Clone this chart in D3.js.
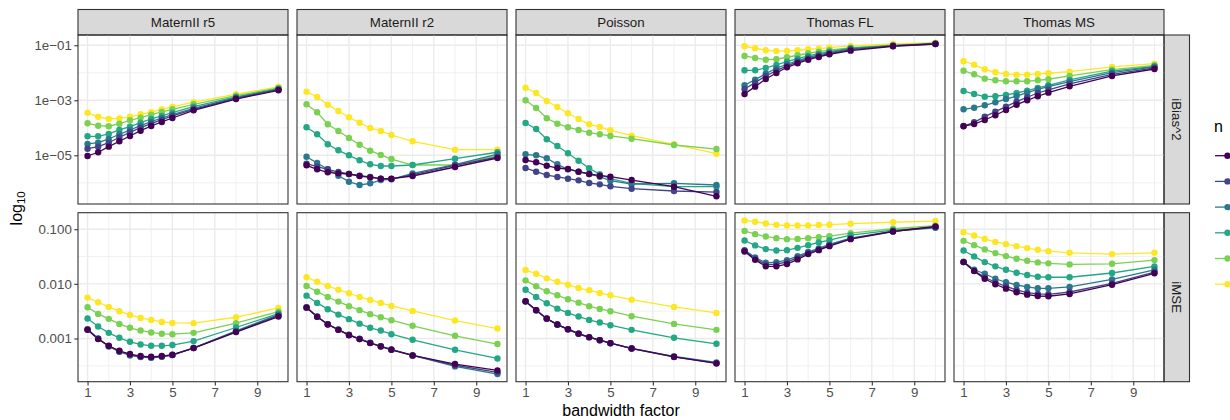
<!DOCTYPE html>
<html><head><meta charset="utf-8">
<script src="https://cdn.jsdelivr.net/npm/d3@7"></script>
<style>
body{margin:0;background:#fff}
svg text{font-family:"Liberation Sans",Arial,Helvetica,sans-serif}
</style>
</head><body>
<svg id="chart" width="1230" height="420"></svg>
<script>
// ---------------- data ----------------
const bandwidth = [1, 1.5, 2, 2.5, 3, 3.5, 4, 4.5, 5, 6, 8, 10];
const models = ["MaternII r5", "MaternII r2", "Poisson", "Thomas FL", "Thomas MS"];
const measures = ["iBias^2", "iMSE"];
const seriesColors = ["#440154", "#414487", "#2A788E", "#22A884", "#7AD151", "#FDE725"];
const xTicks = [1, 3, 5, 7, 9];
const yTicksBias = [1e-1, 1e-3, 1e-5];
const yTickLabelsBias = ["1e\u221201", "1e\u221203", "1e\u221205"];
const yTicksMSE = [0.1, 0.01, 0.001];
const yTickLabelsMSE = ["0.100", "0.010", "0.001"];

// each array: six series (n level 1 .. 6), values at the 12 bandwidth factors
const biasMaternR5 = [
  [9.44e-6, 1.29e-5, 2.06e-5, 3.23e-5, 5.04e-5, 7.85e-5, 1.16e-4, 1.63e-4, 2.27e-4, 4.33e-4, 1.11e-3, 2.31e-3],
  [1.74e-5, 2.06e-5, 2.87e-5, 4.52e-5, 6.85e-5, 1.01e-4, 1.41e-4, 1.97e-4, 2.69e-4, 4.71e-4, 1.18e-3, 2.43e-3],
  [2.58e-5, 2.87e-5, 3.92e-5, 5.81e-5, 8.32e-5, 1.19e-4, 1.67e-4, 2.27e-4, 2.99e-4, 5.12e-4, 1.24e-3, 2.51e-3],
  [4.91e-5, 4.91e-5, 5.96e-5, 8.32e-5, 1.10e-4, 1.53e-4, 2.09e-4, 2.69e-4, 3.54e-4, 5.85e-4, 1.32e-3, 2.64e-3],
  [1.46e-4, 1.19e-4, 1.14e-4, 1.41e-4, 1.87e-4, 2.33e-4, 2.99e-4, 3.76e-4, 4.71e-4, 7.16e-4, 1.47e-3, 2.80e-3],
  [3.55e-4, 2.51e-4, 2.09e-4, 2.19e-4, 2.51e-4, 3.09e-4, 3.72e-4, 4.68e-4, 5.75e-4, 8.51e-4, 1.66e-3, 3.09e-3]
];
const biasMaternR2 = [
  [4.33e-6, 3.10e-6, 2.41e-6, 2.21e-6, 2.09e-6, 1.77e-6, 1.58e-6, 1.41e-6, 1.41e-6, 1.77e-6, 3.76e-6, 7.98e-6],
  [4.95e-6, 3.85e-6, 3.10e-6, 2.47e-6, 2.09e-6, 1.81e-6, 1.63e-6, 1.41e-6, 1.37e-6, 1.97e-6, 4.33e-6, 8.67e-6],
  [8.89e-6, 5.25e-6, 3.10e-6, 1.81e-6, 1.10e-6, 8.32e-7, 9.59e-7, 1.26e-6, 1.34e-6, 2.21e-6, 4.55e-6, 1.11e-5],
  [1.04e-4, 5.81e-5, 2.51e-5, 1.52e-5, 1.00e-5, 6.58e-6, 4.71e-6, 4.08e-6, 4.08e-6, 4.44e-6, 7.52e-6, 1.29e-5],
  [7.16e-4, 3.66e-4, 1.34e-4, 7.66e-5, 4.26e-5, 2.43e-5, 1.47e-5, 1.03e-5, 7.33e-6, 4.44e-6, 4.44e-6, 9.66e-6],
  [2.06e-3, 1.32e-3, 6.92e-4, 4.08e-4, 2.41e-4, 1.53e-4, 9.84e-5, 7.66e-5, 5.47e-5, 3.23e-5, 1.60e-5, 1.60e-5]
];
const biasPoisson = [
  [6.75e-6, 5.56e-6, 4.19e-6, 3.45e-6, 3.18e-6, 2.54e-6, 2.09e-6, 1.81e-6, 1.67e-6, 1.26e-6, 7.21e-7, 3.23e-7],
  [3.45e-6, 2.54e-6, 1.92e-6, 1.63e-6, 1.41e-6, 1.23e-6, 9.84e-7, 8.81e-7, 7.46e-7, 6.10e-7, 5.04e-7, 4.62e-7],
  [1.09e-5, 1.00e-5, 7.78e-6, 4.71e-6, 3.10e-6, 2.54e-6, 2.09e-6, 1.67e-6, 1.19e-6, 9.04e-7, 9.59e-7, 8.32e-7],
  [1.50e-4, 9.04e-5, 3.82e-5, 2.18e-5, 1.18e-5, 6.37e-6, 3.37e-6, 2.04e-6, 1.41e-6, 9.59e-7, 7.21e-7, 7.21e-7],
  [1.00e-3, 5.25e-4, 2.21e-4, 1.41e-4, 1.04e-4, 8.32e-5, 6.64e-5, 5.81e-5, 5.04e-5, 4.02e-5, 2.37e-5, 1.69e-5],
  [2.87e-3, 1.84e-3, 9.44e-4, 5.70e-4, 3.37e-4, 2.09e-4, 1.34e-4, 1.07e-4, 8.11e-5, 5.16e-5, 2.51e-5, 1.14e-5]
];
const biasThomasFL = [
  [1.69e-3, 3.13e-3, 5.96e-3, 9.84e-3, 1.58e-2, 2.21e-2, 2.99e-2, 3.76e-2, 4.71e-2, 6.37e-2, 9.20e-2, 0.111],
  [2.58e-3, 4.37e-3, 7.66e-3, 1.19e-2, 1.77e-2, 2.47e-2, 3.26e-2, 4.08e-2, 4.95e-2, 6.92e-2, 9.44e-2, 0.111],
  [3.51e-3, 5.61e-3, 9.27e-3, 1.46e-2, 2.04e-2, 2.75e-2, 3.66e-2, 4.44e-2, 5.38e-2, 7.33e-2, 9.66e-2, 0.114],
  [1.23e-2, 1.23e-2, 1.50e-2, 1.92e-2, 2.54e-2, 3.26e-2, 4.08e-2, 4.95e-2, 5.85e-2, 7.78e-2, 9.66e-2, 0.114],
  [4.08e-2, 3.45e-2, 2.99e-2, 3.10e-2, 3.66e-2, 4.33e-2, 5.12e-2, 5.85e-2, 6.58e-2, 8.18e-2, 0.100, 0.118],
  [9.20e-2, 7.78e-2, 6.58e-2, 6.21e-2, 6.21e-2, 6.58e-2, 7.16e-2, 7.52e-2, 8.18e-2, 9.44e-2, 0.111, 0.124]
];
const biasThomasMS = [
  [1.14e-4, 1.37e-4, 1.92e-4, 2.85e-4, 4.44e-4, 6.92e-4, 1.00e-3, 1.40e-3, 1.89e-3, 3.23e-3, 7.66e-3, 1.37e-2],
  [1.16e-4, 1.58e-4, 2.54e-4, 3.85e-4, 5.85e-4, 8.89e-4, 1.29e-3, 1.84e-3, 2.37e-3, 3.92e-3, 8.81e-3, 1.50e-2],
  [4.71e-4, 5.38e-4, 6.58e-4, 8.45e-4, 1.11e-3, 1.43e-3, 1.89e-3, 2.51e-3, 3.13e-3, 4.74e-3, 1.01e-2, 1.63e-2],
  [2.18e-3, 1.69e-3, 1.35e-3, 1.40e-3, 1.56e-3, 1.84e-3, 2.23e-3, 2.80e-3, 3.51e-3, 5.47e-3, 1.14e-2, 1.72e-2],
  [1.19e-2, 8.81e-3, 6.10e-3, 5.33e-3, 4.91e-3, 4.91e-3, 4.91e-3, 5.33e-3, 5.81e-3, 7.66e-3, 1.30e-2, 1.87e-2],
  [2.62e-2, 1.97e-2, 1.34e-2, 1.04e-2, 9.04e-3, 8.53e-3, 8.53e-3, 9.04e-3, 9.59e-3, 1.10e-2, 1.63e-2, 2.14e-2]
];
const mseMaternR5 = [
  [1.44e-3, 9.75e-4, 7.36e-4, 5.97e-4, 5.19e-4, 4.78e-4, 4.63e-4, 4.78e-4, 5.05e-4, 6.68e-4, 1.31e-3, 2.52e-3],
  [1.46e-3, 9.89e-4, 7.26e-4, 5.79e-4, 5.05e-4, 4.63e-4, 4.51e-4, 4.70e-4, 4.98e-4, 6.68e-4, 1.34e-3, 2.62e-3],
  [1.48e-3, 1.00e-3, 7.14e-4, 5.73e-4, 4.90e-4, 4.58e-4, 4.45e-4, 4.63e-4, 4.98e-4, 6.76e-4, 1.38e-3, 2.74e-3],
  [2.32e-3, 1.66e-3, 1.27e-3, 1.03e-3, 8.71e-4, 7.78e-4, 7.36e-4, 7.36e-4, 7.59e-4, 8.97e-4, 1.59e-3, 2.86e-3],
  [3.73e-3, 2.82e-3, 2.29e-3, 1.85e-3, 1.57e-3, 1.40e-3, 1.29e-3, 1.22e-3, 1.20e-3, 1.27e-3, 1.91e-3, 3.11e-3],
  [5.60e-3, 4.61e-3, 3.78e-3, 3.16e-3, 2.70e-3, 2.38e-3, 2.19e-3, 2.01e-3, 1.93e-3, 1.91e-3, 2.45e-3, 3.63e-3]
];
const mseMaternR2 = [
  [3.67e-3, 2.49e-3, 1.80e-3, 1.44e-3, 1.15e-3, 9.75e-4, 8.24e-4, 7.14e-4, 6.22e-4, 4.90e-4, 3.41e-4, 2.61e-4],
  [3.72e-3, 2.51e-3, 1.82e-3, 1.45e-3, 1.16e-3, 9.82e-4, 8.32e-4, 7.21e-4, 6.27e-4, 4.90e-4, 3.24e-4, 2.40e-4],
  [3.73e-3, 2.52e-3, 1.83e-3, 1.46e-3, 1.17e-3, 9.89e-4, 8.36e-4, 7.26e-4, 6.31e-4, 4.90e-4, 3.09e-4, 2.24e-4],
  [6.08e-3, 4.48e-3, 3.44e-3, 2.74e-3, 2.26e-3, 1.87e-3, 1.57e-3, 1.40e-3, 1.20e-3, 9.46e-4, 6.22e-4, 4.32e-4],
  [9.14e-3, 7.19e-3, 5.75e-3, 4.73e-3, 3.90e-3, 3.30e-3, 2.79e-3, 2.45e-3, 2.16e-3, 1.71e-3, 1.12e-3, 7.91e-4],
  [1.32e-2, 1.09e-2, 9.14e-3, 7.82e-3, 6.73e-3, 5.75e-3, 5.08e-3, 4.48e-3, 3.94e-3, 3.20e-3, 2.13e-3, 1.52e-3]
];
const msePoisson = [
  [4.81e-3, 3.30e-3, 2.32e-3, 1.80e-3, 1.48e-3, 1.23e-3, 1.06e-3, 9.35e-4, 8.24e-4, 6.58e-4, 4.63e-4, 3.50e-4],
  [4.78e-3, 3.29e-3, 2.31e-3, 1.80e-3, 1.47e-3, 1.22e-3, 1.05e-3, 9.30e-4, 8.20e-4, 6.55e-4, 4.60e-4, 3.55e-4],
  [4.75e-3, 3.28e-3, 2.30e-3, 1.79e-3, 1.47e-3, 1.22e-3, 1.05e-3, 9.30e-4, 8.20e-4, 6.60e-4, 4.70e-4, 3.65e-4],
  [7.82e-3, 5.75e-3, 4.42e-3, 3.52e-3, 2.94e-3, 2.52e-3, 2.19e-3, 1.96e-3, 1.75e-3, 1.44e-3, 1.03e-3, 8.00e-4],
  [1.16e-2, 9.02e-3, 7.31e-3, 6.18e-3, 5.22e-3, 4.53e-3, 3.90e-3, 3.48e-3, 3.16e-3, 2.56e-3, 1.85e-3, 1.44e-3],
  [1.79e-2, 1.53e-2, 1.26e-2, 1.09e-2, 9.66e-3, 8.39e-3, 7.62e-3, 6.81e-3, 6.18e-3, 5.14e-3, 3.78e-3, 2.94e-3]
];
const mseThomasFL = [
  [3.92e-2, 2.75e-2, 2.09e-2, 2.09e-2, 2.30e-2, 2.80e-2, 3.50e-2, 4.14e-2, 4.90e-2, 6.58e-2, 9.08e-2, 0.112],
  [4.03e-2, 2.90e-2, 2.25e-2, 2.29e-2, 2.51e-2, 3.02e-2, 3.67e-2, 4.29e-2, 5.07e-2, 6.71e-2, 9.12e-2, 0.110],
  [4.14e-2, 3.05e-2, 2.43e-2, 2.50e-2, 2.72e-2, 3.22e-2, 3.85e-2, 4.45e-2, 5.26e-2, 6.85e-2, 9.20e-2, 0.106],
  [6.22e-2, 5.05e-2, 4.32e-2, 4.08e-2, 4.14e-2, 4.56e-2, 5.11e-2, 5.71e-2, 6.31e-2, 7.78e-2, 9.59e-2, 0.109],
  [9.31e-2, 8.11e-2, 7.36e-2, 6.85e-2, 6.58e-2, 6.65e-2, 6.85e-2, 7.14e-2, 7.45e-2, 8.45e-2, 0.102, 0.116],
  [0.145, 0.137, 0.127, 0.120, 0.117, 0.117, 0.117, 0.119, 0.121, 0.126, 0.134, 0.141]
];
const mseThomasMS = [
  [2.50e-2, 1.71e-2, 1.24e-2, 9.82e-3, 8.17e-3, 7.01e-3, 6.34e-3, 6.00e-3, 5.93e-3, 6.53e-3, 9.66e-3, 1.56e-2],
  [2.50e-2, 1.74e-2, 1.32e-2, 1.07e-2, 9.02e-3, 7.73e-3, 6.90e-3, 6.53e-3, 6.44e-3, 7.10e-3, 1.02e-2, 1.64e-2],
  [2.54e-2, 1.81e-2, 1.53e-2, 1.24e-2, 1.07e-2, 9.53e-3, 8.77e-3, 8.30e-3, 8.30e-3, 8.77e-3, 1.21e-2, 1.81e-2],
  [4.08e-2, 3.18e-2, 2.50e-2, 2.09e-2, 1.81e-2, 1.60e-2, 1.45e-2, 1.35e-2, 1.32e-2, 1.32e-2, 1.58e-2, 2.09e-2],
  [6.12e-2, 5.11e-2, 4.27e-2, 3.65e-2, 3.22e-2, 2.88e-2, 2.64e-2, 2.47e-2, 2.37e-2, 2.27e-2, 2.33e-2, 2.72e-2],
  [8.81e-2, 7.67e-2, 6.65e-2, 5.86e-2, 5.33e-2, 4.90e-2, 4.51e-2, 4.20e-2, 3.97e-2, 3.70e-2, 3.50e-2, 3.70e-2]
];

const biasSets = [biasMaternR5, biasMaternR2, biasPoisson, biasThomasFL, biasThomasMS];
const mseSets = [mseMaternR5, mseMaternR2, msePoisson, mseThomasFL, mseThomasMS];

(function () {
// ---------------- layout ----------------
const svg = d3.select("#chart");
const panelW = 210, panelH = 169, gapX = 9, gapY = 8.7;
const leftX = 78, topY = 35, stripH = 25.5, stripW = 25.5;
const tickLen = 3.7;
const gridCol = "#EBEBEB", borderCol = "#333333";
const fontTick = "13.3px", fontTitle = "16px";

const xs = d3.extent(bandwidth);
const xPad = (xs[1] - xs[0]) * 0.05;
const x = d3.scaleLinear().domain([xs[0] - xPad, xs[1] + xPad]).range([0, panelW]);
const xStep = xTicks[1] - xTicks[0];
const xMinor = [xTicks[0] - xStep, ...xTicks].map(v => v + xStep / 2)
  .filter(v => v >= x.domain()[0] && v <= x.domain()[1]);

function logDomain(sets) {
  const all = sets.flat(2);
  const lo = Math.log10(d3.min(all)), hi = Math.log10(d3.max(all));
  const p = (hi - lo) * 0.05;
  return [Math.pow(10, lo - p), Math.pow(10, hi + p)];
}
function minorLog(ticks, dom) {
  const l = ticks.map(Math.log10).sort((a, b) => a - b);
  const step = l[1] - l[0];
  const ext = [l[0] - step, ...l, l[l.length - 1] + step];
  const out = [];
  for (let i = 0; i < ext.length - 1; i++) {
    const m = (ext[i] + ext[i + 1]) / 2;
    if (m >= Math.log10(dom[0]) && m <= Math.log10(dom[1])) out.push(Math.pow(10, m));
  }
  return out;
}

const rows = [
  { label: measures[0], sets: biasSets, ticks: yTicksBias, labels: yTickLabelsBias },
  { label: measures[1], sets: mseSets, ticks: yTicksMSE, labels: yTickLabelsMSE }
];

// top strips
models.forEach((m, c) => {
  const gx = leftX + c * (panelW + gapX);
  const g = svg.append("g").attr("transform", `translate(${gx},${topY - stripH})`);
  g.append("rect").attr("width", panelW).attr("height", stripH)
    .attr("fill", "#D9D9D9").attr("stroke", borderCol).attr("stroke-width", 1.1);
  g.append("text").attr("x", panelW / 2).attr("y", stripH / 2).attr("dy", "0.36em")
    .attr("text-anchor", "middle").attr("fill", "#1A1A1A").style("font-size", fontTick).text(m);
});

rows.forEach((row, r) => {
  const gy = topY + r * (panelH + gapY);
  const dom = logDomain(row.sets);
  const y = d3.scaleLog().domain(dom).range([panelH, 0]);
  const yMinor = minorLog(row.ticks, dom);
  const lineGen = d3.line().x((d, i) => x(bandwidth[i])).y(d => y(d));

  // right strip
  const sg = svg.append("g").attr("transform", `translate(${leftX + 5 * panelW + 4 * gapX},${gy})`);
  sg.append("rect").attr("width", stripW).attr("height", panelH)
    .attr("fill", "#D9D9D9").attr("stroke", borderCol).attr("stroke-width", 1.1);
  sg.append("text").attr("transform", `translate(${stripW / 2},${panelH / 2}) rotate(90)`)
    .attr("dy", "0.36em").attr("text-anchor", "middle").attr("fill", "#1A1A1A")
    .style("font-size", fontTick).text(row.label);

  row.sets.forEach((series, c) => {
    const gx = leftX + c * (panelW + gapX);
    const g = svg.append("g").attr("transform", `translate(${gx},${gy})`);
    // grid
    g.append("g").selectAll("line").data(xMinor).join("line").attr("x1", d => x(d)).attr("x2", d => x(d))
      .attr("y1", 0).attr("y2", panelH).attr("stroke", gridCol).attr("stroke-width", 0.7);
    g.append("g").selectAll("line").data(yMinor).join("line").attr("y1", d => y(d)).attr("y2", d => y(d))
      .attr("x1", 0).attr("x2", panelW).attr("stroke", gridCol).attr("stroke-width", 0.7);
    g.append("g").selectAll("line").data(xTicks).join("line").attr("x1", d => x(d)).attr("x2", d => x(d))
      .attr("y1", 0).attr("y2", panelH).attr("stroke", gridCol).attr("stroke-width", 1.4);
    g.append("g").selectAll("line").data(row.ticks).join("line").attr("y1", d => y(d)).attr("y2", d => y(d))
      .attr("x1", 0).attr("x2", panelW).attr("stroke", gridCol).attr("stroke-width", 1.4);

    // lines then points, last n level drawn first
    const order = d3.range(series.length).reverse();
    order.forEach(k => {
      g.append("path").attr("d", lineGen(series[k])).attr("fill", "none")
        .attr("stroke", seriesColors[k]).attr("stroke-width", 1.3);
    });
    order.forEach(k => {
      g.append("g").selectAll("circle").data(series[k]).join("circle")
        .attr("cx", (d, i) => x(bandwidth[i])).attr("cy", d => y(d)).attr("r", 3.2)
        .attr("fill", seriesColors[k]);
    });

    g.append("rect").attr("width", panelW).attr("height", panelH)
      .attr("fill", "none").attr("stroke", borderCol).attr("stroke-width", 1.1);

    if (c === 0) {
      const ya = d3.axisLeft(y).tickValues(row.ticks).tickFormat((d, i) => row.labels[i])
        .tickSize(tickLen).tickPadding(2.5);
      const ag = g.append("g").call(ya);
      ag.select(".domain").remove();
      ag.selectAll("line").attr("stroke", borderCol).attr("stroke-width", 1.1);
      ag.selectAll("text").attr("fill", "#4D4D4D").style("font-size", fontTick)
        .style("font-family", '"Liberation Sans",Arial,sans-serif');
    }
    if (r === rows.length - 1) {
      const xa = d3.axisBottom(x).tickValues(xTicks).tickFormat(d3.format("d"))
        .tickSize(tickLen).tickPadding(2.5);
      const ag = g.append("g").attr("transform", `translate(0,${panelH})`).call(xa);
      ag.select(".domain").remove();
      ag.selectAll("line").attr("stroke", borderCol).attr("stroke-width", 1.1);
      ag.selectAll("text").attr("fill", "#4D4D4D").style("font-size", fontTick)
        .style("font-family", '"Liberation Sans",Arial,sans-serif');
    }
  });
});

// axis titles
const totalW = 5 * panelW + 4 * gapX;
svg.append("text").attr("x", leftX + totalW / 2).attr("y", 416).attr("text-anchor", "middle")
  .attr("fill", "#000").style("font-size", fontTitle).text("bandwidth factor");
const yt = svg.append("text").attr("transform", `translate(22,${topY + panelH + gapY / 2}) rotate(-90)`)
  .attr("text-anchor", "middle").attr("fill", "#000").style("font-size", fontTitle);
yt.append("tspan").text("log");
yt.append("tspan").attr("dy", "0.3em").style("font-size", "11.5px").text("10");

// legend
const lgd = svg.append("g");
lgd.append("text").attr("x", 1214).attr("y", 132).attr("fill", "#000").style("font-size", fontTitle).text("n");
seriesColors.forEach((col, i) => {
  const ky = 155.7 + i * 25.7;
  lgd.append("line").attr("x1", 1215).attr("x2", 1241).attr("y1", ky).attr("y2", ky)
    .attr("stroke", col).attr("stroke-width", 1.3);
  lgd.append("circle").attr("cx", 1227.5).attr("cy", ky).attr("r", 3.2).attr("fill", col);
});
})();
</script>
</body></html>
